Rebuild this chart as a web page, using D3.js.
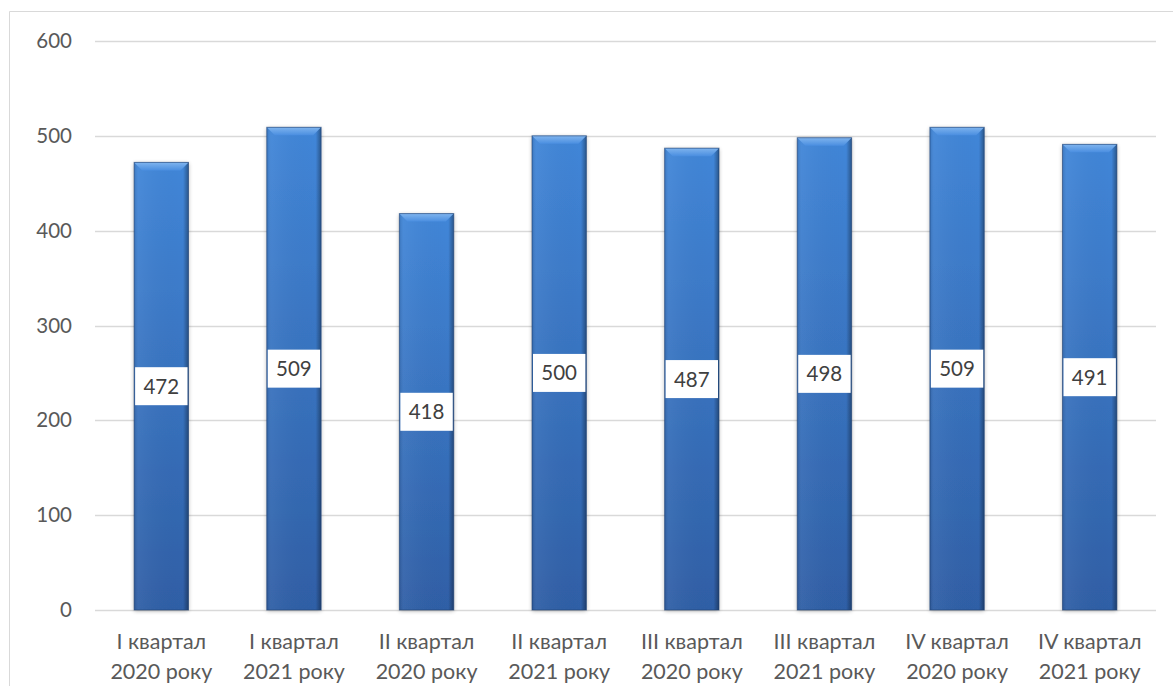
<!DOCTYPE html>
<html>
<head>
<meta charset="utf-8">
<script src="https://cdn.jsdelivr.net/npm/d3@7"></script>
<style>
body { margin: 0; background: #fff; }
svg text { font-family: Lato, "Open Sans", "Liberation Sans", sans-serif; }
</style>
</head>
<body>
<script>
var quarters = ["I квартал", "I квартал", "II квартал", "II квартал", "III квартал", "III квартал", "IV квартал", "IV квартал"];
var years = ["2020 року", "2021 року", "2020 року", "2021 року", "2020 року", "2021 року", "2020 року", "2021 року"];
var values = [472, 509, 418, 500, 487, 498, 509, 491];
var yTicks = [0, 100, 200, 300, 400, 500, 600];

var width = 1173, height = 686;
var plotLeft = 95, plotRight = 1156, plotTop = 41, plotBottom = 610;

var svg = d3.select("body")
	.append("svg")
	.attr("width", width)
	.attr("height", height);

var defs = svg.append("defs");

var grad = defs.append("linearGradient")
	.attr("id", "barGrad")
	.attr("x1", 0).attr("y1", 0).attr("x2", 0).attr("y2", 1);
grad.append("stop").attr("offset", "0%").attr("stop-color", "#4186d8");
grad.append("stop").attr("offset", "100%").attr("stop-color", "#2f5fa6");

var side = defs.append("linearGradient")
	.attr("id", "sideGrad")
	.attr("x1", 0).attr("y1", 0).attr("x2", 1).attr("y2", 0);
side.append("stop").attr("offset", "0%").attr("stop-color", "#000").attr("stop-opacity", 0.12);
side.append("stop").attr("offset", "8%").attr("stop-color", "#fff").attr("stop-opacity", 0.05);
side.append("stop").attr("offset", "90%").attr("stop-color", "#000").attr("stop-opacity", 0);
side.append("stop").attr("offset", "100%").attr("stop-color", "#000").attr("stop-opacity", 0.35);

var bevel = defs.append("linearGradient")
	.attr("id", "bevelGrad")
	.attr("x1", 0).attr("y1", 0).attr("x2", 0).attr("y2", 1);
bevel.append("stop").attr("offset", "0%").attr("stop-color", "#7fb4ee");
bevel.append("stop").attr("offset", "100%").attr("stop-color", "#4a8ee0");

var shadow = defs.append("filter").attr("id", "shadow")
	.attr("x", "-20%").attr("y", "-5%").attr("width", "140%").attr("height", "110%");
shadow.append("feGaussianBlur").attr("in", "SourceAlpha").attr("stdDeviation", 2);
shadow.append("feOffset").attr("dx", 0).attr("dy", 1).attr("result", "b");
shadow.append("feComponentTransfer").append("feFuncA").attr("type", "linear").attr("slope", 0.3);
var merge = shadow.append("feMerge");
merge.append("feMergeNode");
merge.append("feMergeNode").attr("in", "SourceGraphic");

// chart border
svg.append("path")
	.attr("d", "M9.5," + height + " L9.5,11.5 L" + width + ",11.5")
	.attr("fill", "none")
	.attr("stroke", "#d9d9d9")
	.attr("stroke-width", 1);

var x = d3.scaleBand()
	.domain(d3.range(values.length))
	.range([plotLeft, plotRight])
	.paddingInner(0.59)
	.paddingOuter(0.295);

var y = d3.scaleLinear()
	.domain([0, 600])
	.range([plotBottom, plotTop]);

// gridlines
svg.append("g")
	.selectAll("line")
	.data(yTicks)
	.join("line")
	.attr("x1", plotLeft)
	.attr("x2", plotRight)
	.attr("y1", function (d) { return Math.round(y(d)) + 0.5; })
	.attr("y2", function (d) { return Math.round(y(d)) + 0.5; })
	.attr("stroke", "#d9d9d9")
	.attr("stroke-width", 1.5);

// y tick labels
svg.append("g")
	.selectAll("text")
	.data(yTicks)
	.join("text")
	.attr("x", 72)
	.attr("y", function (d) { return y(d) + 7; })
	.attr("text-anchor", "end")
	.attr("font-size", "20.5px")
	.attr("fill", "#595959")
	.text(function (d) { return d; });

var bars = svg.append("g")
	.selectAll("g")
	.data(values)
	.join("g")
	.attr("transform", function (d, i) { return "translate(" + x(i) + "," + y(d) + ")"; });

var bw = x.bandwidth();

bars.append("rect")
	.attr("width", bw)
	.attr("height", function (d) { return plotBottom - y(d); })
	.attr("fill", "url(#barGrad)")
	.attr("filter", "url(#shadow)");

bars.append("rect")
	.attr("width", bw)
	.attr("height", function (d) { return plotBottom - y(d); })
	.attr("fill", "url(#sideGrad)");

// top bevel
bars.append("path")
	.attr("d", "M0,0 L" + bw + ",0 L" + (bw - 8) + ",8 L8,8 Z")
	.attr("fill", "url(#bevelGrad)");

bars.append("rect")
	.attr("width", bw)
	.attr("height", function (d) { return plotBottom - y(d); })
	.attr("fill", "none")
	.attr("stroke", "#1f3f70")
	.attr("stroke-opacity", 0.6)
	.attr("stroke-width", 1);

// value labels
bars.append("rect")
	.attr("x", 1)
	.attr("y", function (d) { return (plotBottom - y(d)) / 2 - 19; })
	.attr("width", bw - 2)
	.attr("height", 38)
	.attr("fill", "#fff");

bars.append("text")
	.attr("x", bw / 2)
	.attr("y", function (d) { return (plotBottom - y(d)) / 2 + 7.5; })
	.attr("text-anchor", "middle")
	.attr("font-size", "20.5px")
	.attr("fill", "#404040")
	.text(function (d) { return d; });

// category labels
var cats = svg.append("g")
	.selectAll("text")
	.data(quarters)
	.join("text")
	.attr("text-anchor", "middle")
	.attr("font-size", "21.5px")
	.attr("fill", "#595959");

cats.append("tspan")
	.attr("x", function (d, i) { return x(i) + bw / 2; })
	.attr("y", 649)
	.text(function (d) { return d; });

cats.append("tspan")
	.attr("x", function (d, i) { return x(i) + bw / 2; })
	.attr("y", 679)
	.text(function (d, i) { return years[i]; });
</script>
</body>
</html>
